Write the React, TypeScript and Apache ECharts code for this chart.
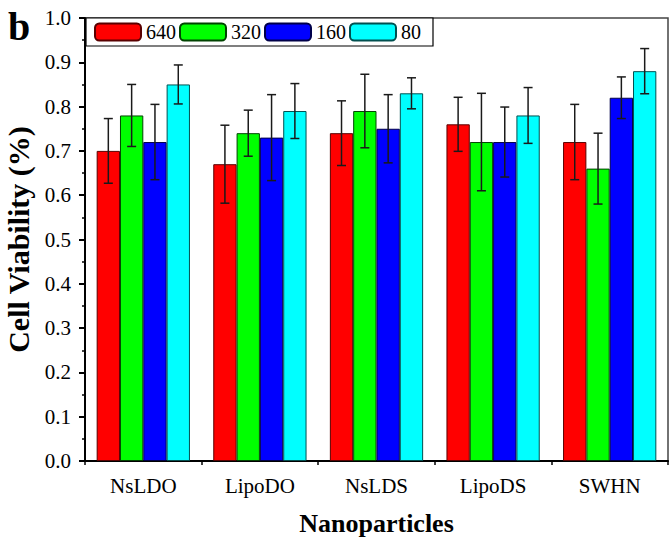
import React, { useEffect, useRef } from "react";
import * as echarts from "echarts";

const categories = ["NsLDO", "LipoDO", "NsLDS", "LipoDS", "SWHN"];
const seriesNames = ["640", "320", "160", "80"];
const colors = ["#ff0000", "#00ff00", "#0000ff", "#00ffff"];
const borders = ["#5a0000", "#004400", "#00004a", "#005050"];
const values640 = [0.70, 0.67, 0.74, 0.76, 0.72];
const values320 = [0.78, 0.74, 0.79, 0.72, 0.66];
const values160 = [0.72, 0.73, 0.75, 0.72, 0.82];
const values80 = [0.85, 0.79, 0.83, 0.78, 0.88];
const err640 = [0.073, 0.088, 0.073, 0.061, 0.085];
const err320 = [0.07, 0.052, 0.083, 0.11, 0.08];
const err160 = [0.085, 0.097, 0.077, 0.079, 0.047];
const err80 = [0.044, 0.062, 0.035, 0.063, 0.051];
const yTicks = [0, 0.1, 0.2, 0.3, 0.4, 0.5, 0.6, 0.7, 0.8, 0.9, 1.0];

const allValues = [values640, values320, values160, values80];
const allErr = [err640, err320, err160, err80];

const FONT = "Liberation Serif";

export default function App() {
  const ref = useRef<HTMLDivElement>(null);
  useEffect(() => {
    if (!ref.current) return;
    const chart = echarts.init(ref.current, undefined, { renderer: "svg" });
    const barSeries = seriesNames.map((name, i) => ({
      name,
      type: "bar",
      data: allValues[i],
      barGap: "0%",
      barCategoryGap: "20%",
      itemStyle: { color: colors[i], borderColor: borders[i], borderWidth: 1 },
      z: 2,
    }));
    const errSeries = seriesNames.map((name, i) => ({
      name: name + "_err",
      type: "custom",
      z: 5,
      data: categories.map((c, j) => [j, allValues[i][j] - allErr[i][j], allValues[i][j] + allErr[i][j]]),
      encode: { x: 0, y: [1, 2] },
      renderItem: (params: any, api: any) => {
        const j = api.value(0);
        const lo = api.coord([j, api.value(1)]);
        const hi = api.coord([j, api.value(2)]);
        const band = api.size([1, 0])[0];
        const x = lo[0] + (-0.3 + 0.2 * i) * band;
        const cap = 4.5;
        const st = { stroke: "#1a1a1a", lineWidth: 1.5 };
        return {
          type: "group",
          children: [
            { type: "line", shape: { x1: x, y1: lo[1], x2: x, y2: hi[1] }, style: st },
            { type: "line", shape: { x1: x - cap, y1: lo[1], x2: x + cap, y2: lo[1] }, style: st },
            { type: "line", shape: { x1: x - cap, y1: hi[1], x2: x + cap, y2: hi[1] }, style: st },
          ],
        };
      },
    }));
    chart.setOption({
      animation: false,
      textStyle: { fontFamily: FONT },
      graphic: [
        {
          type: "text",
          left: 8,
          top: 6,
          style: { text: "b", fontFamily: FONT, fontWeight: "bold", fontSize: 40, fill: "#000" },
        },
      ],
      legend: {
        data: seriesNames,
        left: 86,
        top: 18,
        orient: "horizontal",
        itemWidth: 46,
        itemHeight: 17,
        itemGap: 3,
        padding: [4, 12, 4, 8],
        borderColor: "#000",
        borderWidth: 1.2,
        backgroundColor: "#fff",
        textStyle: { fontFamily: FONT, fontSize: 20, color: "#000" },
        z: 10,
      },
      grid: {
        left: 85,
        right: 2,
        top: 18,
        bottom: 80,
        show: true,
        borderColor: "#444",
        borderWidth: 1.5,
        backgroundColor: "transparent",
        containLabel: false,
        outerBoundsMode: "none",
      },
      xAxis: [
        {
          type: "category",
          data: categories,
          axisLine: { lineStyle: { color: "#000", width: 2 } },
          axisTick: { alignWithLabel: true, length: 7, lineStyle: { color: "#000", width: 2 } },
          axisLabel: { fontFamily: FONT, fontSize: 21, color: "#000", margin: 14 },
          name: "Nanoparticles",
          nameLocation: "middle",
          nameGap: 49,
          nameTextStyle: { fontFamily: FONT, fontSize: 26, fontWeight: "bold", color: "#000" },
        },
        {
          type: "category",
          data: categories,
          position: "bottom",
          axisLine: { show: false },
          axisTick: { show: true, length: 4, lineStyle: { color: "#000", width: 1.5 } },
          axisLabel: { show: false },
        },
      ],
      yAxis: {
        type: "value",
        min: 0,
        max: 1.0,
        interval: 0.1,
        axisLine: { show: true, lineStyle: { color: "#000", width: 2 } },
        axisTick: { show: true, length: 6, lineStyle: { color: "#000", width: 2 } },
        minorTick: { show: true, splitNumber: 2, length: 3, lineStyle: { color: "#000", width: 1.5 } },
        splitLine: { show: false },
        axisLabel: {
          fontFamily: FONT,
          fontSize: 21,
          color: "#000",
          margin: 14,
          formatter: (v: number) => {
            const t = yTicks.find((k) => Math.abs(k - v) < 1e-6);
            return (t !== undefined ? t : v).toFixed(1);
          },
        },
        name: "Cell Viability (%)",
        nameLocation: "middle",
        nameGap: 50,
        nameTextStyle: { fontFamily: FONT, fontSize: 30, fontWeight: "bold", color: "#000" },
      },
      series: [...barSeries, ...errSeries],
    });
    return () => chart.dispose();
  }, []);
  return <div ref={ref} style={{ width: 670, height: 541, position: "absolute", left: 0, top: 0 }} />;
}
